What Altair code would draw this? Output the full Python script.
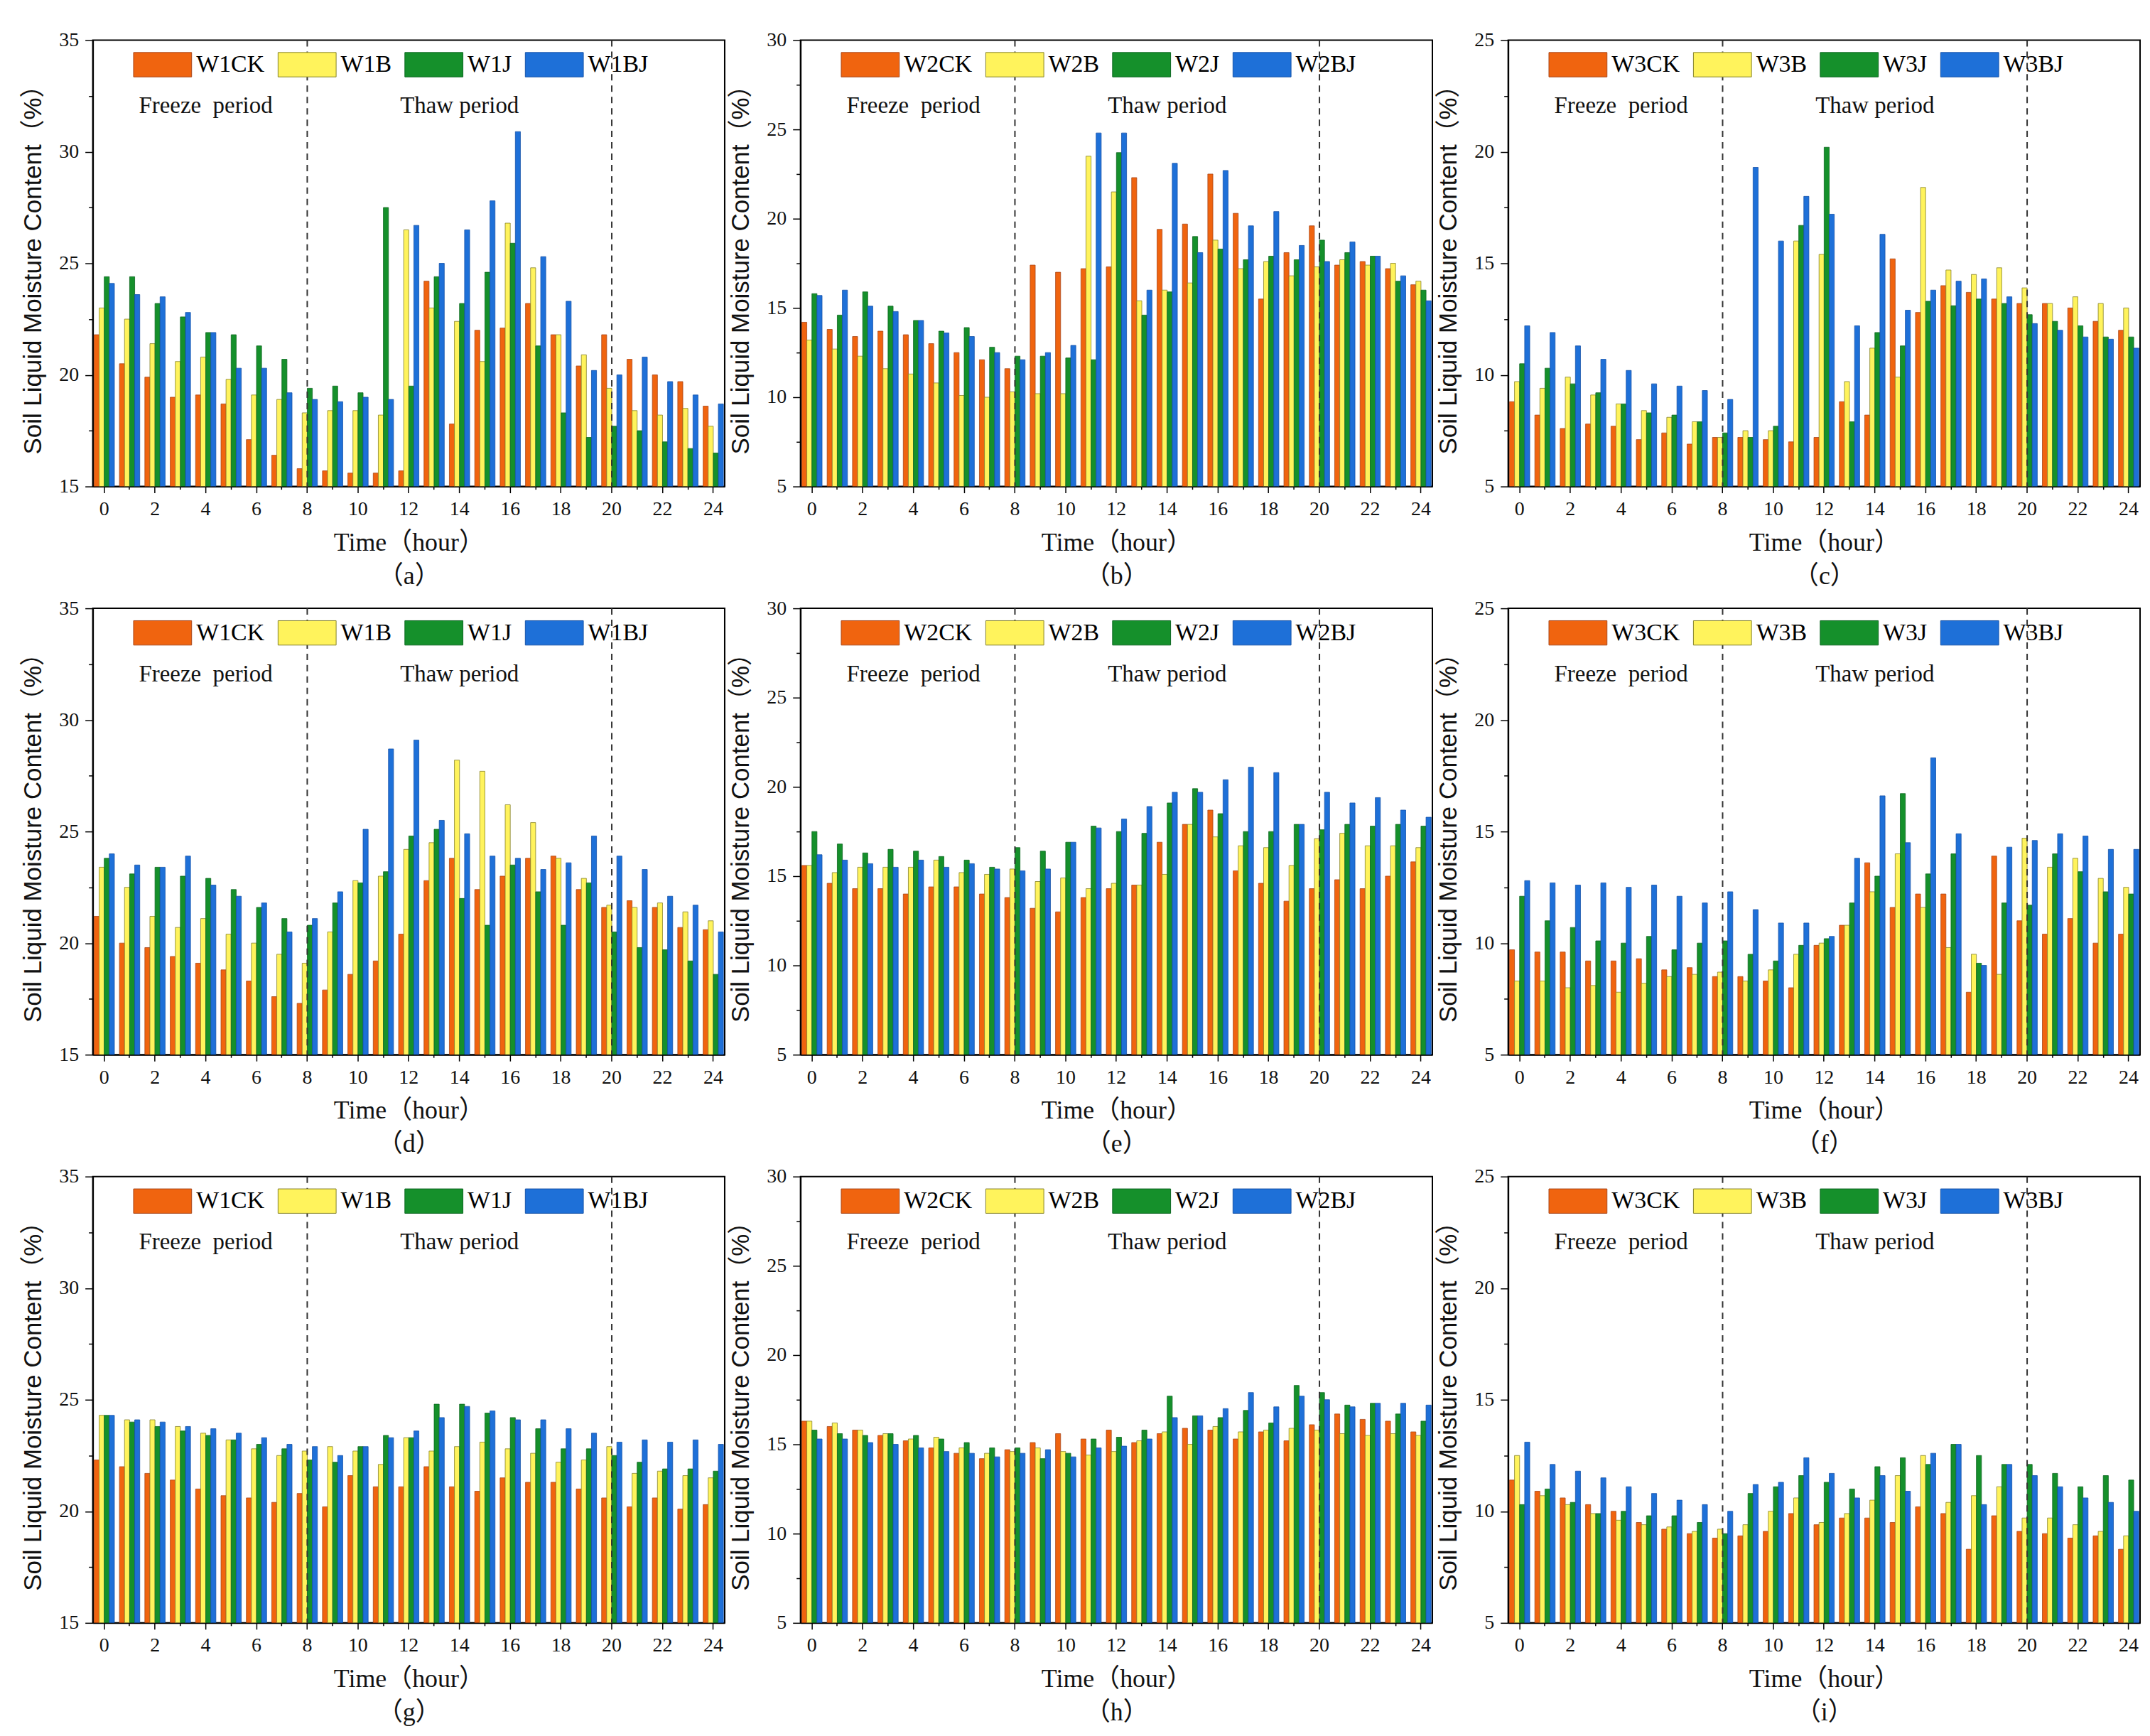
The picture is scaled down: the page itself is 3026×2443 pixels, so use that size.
import altair as alt
import pandas as pd

hours = list(range(25))
odd_hours = [h for h in hours if h % 2 == 1]
even_hours = [h for h in hours if h % 2 == 0]
suffixes = ["CK", "B", "J", "BJ"]
fill_colors = ["#F0640F", "#FFF35C", "#15902B", "#1E70D8"]
edge_colors = ["#A8461A", "#85822A", "#0C6620", "#1552A8"]
boundary_hours = [8, 20]
period_labels = ["Freeze\u00a0 period", "Thaw period"]
period_hours = [4, 14]

# ---- panel (a) W1, layer 1
a_CK = [21.8, 20.5, 19.9, 19.0, 19.1, 18.7, 17.1, 16.4, 15.8, 15.7, 15.6, 15.6, 15.7, 24.2, 17.8, 22.0, 22.1, 23.2, 21.8, 20.4, 21.8, 20.7, 20.0, 19.7, 18.6]
a_B = [23.0, 22.5, 21.4, 20.6, 20.8, 19.8, 19.1, 18.9, 18.3, 18.4, 18.4, 18.2, 26.5, 23.0, 22.4, 20.6, 26.8, 24.8, 21.8, 20.9, 19.4, 18.4, 18.2, 18.5, 17.7]
a_J = [24.4, 24.4, 23.2, 22.6, 21.9, 21.8, 21.3, 20.7, 19.4, 19.5, 19.2, 27.5, 19.5, 24.4, 23.2, 24.6, 25.9, 21.3, 18.3, 17.2, 17.7, 17.5, 17.0, 16.7, 16.5]
a_BJ = [24.1, 23.6, 23.5, 22.8, 21.9, 20.3, 20.3, 19.2, 18.9, 18.8, 19.0, 18.9, 26.7, 25.0, 26.5, 27.8, 30.9, 25.3, 23.3, 20.2, 20.0, 20.8, 19.7, 19.1, 18.7]

# ---- panel (b) W2, layer 1
b_CK = [14.2, 13.8, 13.4, 13.7, 13.5, 13.0, 12.5, 12.1, 11.6, 17.4, 17.0, 17.2, 17.3, 22.3, 19.4, 19.7, 22.5, 20.3, 15.5, 18.1, 19.6, 17.4, 17.6, 17.2, 16.3]
b_B = [13.2, 12.7, 12.3, 11.6, 11.3, 10.8, 10.1, 10.0, 10.3, 10.2, 10.2, 23.5, 21.5, 15.4, 16.0, 16.4, 18.8, 17.2, 17.6, 16.8, 17.3, 17.7, 17.4, 17.5, 16.5]
b_J = [15.8, 14.6, 15.9, 15.1, 14.3, 13.7, 13.9, 12.8, 12.3, 12.3, 12.2, 12.1, 23.7, 14.6, 15.9, 19.0, 18.3, 17.7, 17.9, 17.7, 18.8, 18.1, 17.9, 16.5, 16.0]
b_BJ = [15.7, 16.0, 15.1, 14.8, 14.3, 13.6, 13.4, 12.5, 12.1, 12.5, 12.9, 24.8, 24.8, 16.0, 23.1, 18.1, 22.7, 19.6, 20.4, 18.5, 17.6, 18.7, 17.9, 16.8, 15.4]

# ---- panel (c) W3, layer 1
c_CK = [8.8, 8.2, 7.6, 7.8, 7.7, 7.1, 7.4, 6.9, 7.2, 7.2, 7.1, 7.0, 7.2, 8.8, 8.2, 15.2, 12.8, 14.0, 13.7, 13.4, 13.2, 13.2, 13.0, 12.4, 12.0]
c_B = [9.7, 9.4, 9.9, 9.1, 8.7, 8.4, 8.1, 7.9, 7.2, 7.5, 7.5, 16.0, 15.4, 9.7, 11.2, 9.9, 18.4, 14.7, 14.5, 14.8, 13.9, 13.2, 13.5, 13.2, 13.0]
c_J = [10.5, 10.3, 9.6, 9.2, 8.7, 8.3, 8.2, 7.9, 7.4, 7.2, 7.7, 16.7, 20.2, 7.9, 11.9, 11.3, 13.3, 13.1, 13.4, 13.2, 12.7, 12.4, 12.2, 11.7, 11.7]
c_BJ = [12.2, 11.9, 11.3, 10.7, 10.2, 9.6, 9.5, 9.3, 8.9, 19.3, 16.0, 18.0, 17.2, 12.2, 16.3, 12.9, 13.8, 14.2, 14.3, 13.5, 12.3, 12.0, 11.7, 11.6, 11.2]

# ---- panel (d) W1, layer 2
d_CK = [21.2, 20.0, 19.8, 19.4, 19.1, 18.8, 18.3, 17.6, 17.3, 17.9, 18.6, 19.2, 20.4, 22.8, 23.8, 22.4, 23.0, 23.8, 23.9, 22.4, 21.6, 21.9, 21.6, 20.7, 20.6]
d_B = [23.4, 22.5, 21.2, 20.7, 21.1, 20.4, 20.0, 19.5, 19.1, 20.5, 22.8, 23.0, 24.2, 24.5, 28.2, 27.7, 26.2, 25.4, 23.8, 22.9, 21.7, 21.6, 21.8, 21.4, 21.0]
d_J = [23.8, 23.1, 23.4, 23.0, 22.9, 22.4, 21.6, 21.1, 20.8, 21.8, 22.7, 23.2, 24.8, 25.1, 22.0, 20.8, 23.5, 22.3, 20.8, 22.7, 20.5, 19.8, 19.7, 19.2, 18.6]
d_BJ = [24.0, 23.5, 23.4, 23.9, 22.6, 22.1, 21.8, 20.5, 21.1, 22.3, 25.1, 28.7, 29.1, 25.5, 24.9, 23.9, 23.8, 23.3, 23.6, 24.8, 23.9, 23.3, 22.1, 21.7, 20.5]

# ---- panel (e) W2, layer 2
e_CK = [15.6, 14.6, 14.3, 14.3, 14.0, 14.4, 14.4, 14.0, 13.8, 13.2, 13.0, 13.8, 14.3, 14.5, 16.9, 17.9, 18.7, 15.3, 14.6, 13.6, 14.3, 14.8, 14.3, 15.0, 15.8]
e_B = [15.6, 15.2, 15.5, 15.5, 15.5, 15.9, 15.2, 15.1, 15.4, 14.7, 14.9, 14.3, 14.6, 14.5, 15.1, 17.9, 17.2, 16.7, 16.6, 15.6, 17.1, 17.4, 16.7, 16.7, 16.6]
e_J = [17.5, 16.8, 16.3, 16.5, 16.4, 16.1, 15.9, 15.5, 16.6, 16.4, 16.9, 17.8, 17.5, 17.4, 19.1, 19.9, 18.5, 17.5, 17.5, 17.9, 17.6, 17.9, 17.8, 17.9, 17.8]
e_BJ = [16.2, 15.9, 15.7, 15.5, 15.9, 15.5, 15.7, 15.4, 15.3, 15.4, 16.9, 17.7, 18.2, 18.9, 19.7, 19.7, 20.4, 21.1, 20.8, 17.9, 19.7, 19.1, 19.4, 18.7, 18.3]

# ---- panel (f) W3, layer 2
f_CK = [9.7, 9.6, 9.6, 9.2, 9.2, 9.3, 8.8, 8.9, 8.5, 8.5, 8.3, 8.0, 9.9, 10.8, 13.6, 11.6, 12.2, 12.2, 7.8, 13.9, 11.0, 10.4, 11.1, 10.0, 10.4]
f_B = [8.3, 8.3, 8.0, 8.1, 7.8, 8.2, 8.5, 8.6, 8.7, 8.3, 8.8, 9.5, 10.0, 10.8, 12.3, 14.0, 11.6, 9.8, 9.5, 8.6, 14.7, 13.4, 13.8, 12.9, 12.5]
f_J = [12.1, 11.0, 10.7, 10.1, 10.0, 10.3, 9.7, 10.0, 10.1, 9.5, 9.2, 9.9, 10.2, 11.8, 13.0, 16.7, 13.1, 14.0, 9.1, 11.8, 11.7, 14.0, 13.2, 12.3, 12.2]
f_BJ = [12.8, 12.7, 12.6, 12.7, 12.5, 12.6, 12.1, 11.8, 12.3, 11.5, 10.9, 10.9, 10.3, 13.8, 16.6, 14.5, 18.3, 14.9, 9.0, 14.3, 14.6, 14.9, 14.8, 14.2, 14.2]

# ---- panel (g) W1, layer 3
g_CK = [22.3, 22.0, 21.7, 21.4, 21.0, 20.7, 20.6, 20.4, 20.8, 20.2, 21.6, 21.1, 21.1, 22.0, 21.1, 20.9, 21.5, 21.3, 21.3, 21.0, 20.6, 20.2, 20.6, 20.1, 20.3]
g_B = [24.3, 24.1, 24.1, 23.8, 23.5, 23.2, 22.8, 22.5, 22.7, 22.9, 22.7, 22.1, 23.3, 22.7, 22.9, 23.1, 22.8, 22.6, 22.2, 22.3, 22.9, 21.7, 21.8, 21.6, 21.5]
g_J = [24.3, 24.0, 23.8, 23.6, 23.4, 23.2, 23.0, 22.8, 22.3, 22.2, 22.9, 23.4, 23.3, 24.8, 24.8, 24.4, 24.2, 23.7, 22.8, 22.8, 22.5, 22.2, 21.9, 21.9, 21.8]
g_BJ = [24.3, 24.1, 24.0, 23.8, 23.7, 23.5, 23.3, 23.0, 22.9, 22.5, 22.9, 23.3, 23.6, 24.2, 24.7, 24.5, 24.1, 24.1, 23.7, 23.5, 23.1, 23.2, 23.1, 23.2, 23.0]

# ---- panel (h) W2, layer 3
h_CK = [16.3, 16.0, 15.8, 15.5, 15.2, 14.8, 14.5, 14.2, 14.7, 15.1, 15.6, 15.3, 15.8, 15.1, 15.6, 15.9, 15.8, 15.3, 15.7, 15.2, 16.1, 16.7, 16.4, 16.3, 15.7]
h_B = [16.3, 16.2, 15.8, 15.6, 15.3, 15.4, 14.8, 14.5, 14.6, 14.8, 14.6, 14.4, 14.6, 15.2, 15.7, 15.0, 16.0, 15.7, 15.8, 15.9, 15.8, 15.6, 15.5, 15.6, 15.5]
h_J = [15.8, 15.6, 15.5, 15.6, 15.5, 15.3, 15.1, 14.8, 14.8, 14.2, 14.5, 15.3, 15.4, 15.8, 17.7, 16.6, 16.5, 16.9, 16.2, 18.3, 17.9, 17.2, 17.3, 16.7, 16.3]
h_BJ = [15.3, 15.3, 15.1, 15.0, 14.8, 14.6, 14.5, 14.3, 14.5, 14.7, 14.3, 14.8, 14.9, 15.3, 16.5, 16.6, 17.0, 17.9, 17.1, 17.7, 17.5, 17.1, 17.3, 17.3, 17.2]

# ---- panel (i) W3, layer 3
i_CK = [11.4, 10.9, 10.6, 10.3, 10.0, 9.5, 9.2, 9.0, 8.8, 8.9, 9.1, 9.9, 9.4, 9.7, 9.7, 9.5, 10.2, 9.9, 8.3, 9.8, 9.1, 9.0, 8.8, 8.9, 8.3]
i_B = [12.5, 10.7, 10.3, 9.9, 9.6, 9.4, 9.3, 9.1, 9.2, 9.4, 10.0, 10.6, 9.5, 9.9, 10.5, 11.6, 12.5, 10.4, 10.7, 11.1, 9.7, 9.7, 9.4, 9.1, 8.9]
i_J = [10.3, 11.0, 10.4, 9.9, 10.0, 9.8, 9.8, 9.5, 9.0, 10.8, 11.1, 11.6, 11.3, 11.0, 12.0, 12.4, 12.1, 13.0, 12.5, 12.1, 12.1, 11.7, 11.1, 11.6, 11.4]
i_BJ = [13.1, 12.1, 11.8, 11.5, 11.1, 10.8, 10.5, 10.3, 10.0, 11.2, 11.3, 12.4, 11.7, 10.6, 11.6, 10.9, 12.6, 13.0, 10.3, 12.1, 11.6, 11.1, 10.6, 10.4, 10.0]

SERIF = "Liberation Serif, Noto Sans CJK SC"
SANS = "Liberation Sans, Noto Sans CJK SC"
W, H = 892, 630


def panel(letter, prefix, ymin, ymax, ck, b, j, bj):
    names = [prefix + s for s in suffixes]
    rows = []
    for name, vals in zip(names, [ck, b, j, bj]):
        for hr, v in zip(hours, vals):
            rows.append({"hour": hr, "series": name, "value": v})
    df = pd.DataFrame(rows)

    major_y = list(range(ymin, ymax + 1, 5))
    minor_y = [v + 2.5 for v in major_y[:-1]]

    xscale = alt.Scale(domain=hours, paddingInner=0.2, paddingOuter=0.05)
    yscale = alt.Scale(domain=[ymin, ymax], zero=False, nice=False)

    bars = alt.Chart(df).mark_bar(clip=True, strokeWidth=0.8).encode(
        x=alt.X("hour:O", scale=xscale,
                axis=alt.Axis(values=even_hours, labelAngle=0, tickSize=9, orient="bottom",
                              title=["Time（hour）", f"（{letter}）"])),
        xOffset=alt.XOffset("series:N", sort=names, scale=alt.Scale(domain=names, paddingInner=0)),
        y=alt.Y("value:Q", scale=yscale,
                axis=alt.Axis(values=major_y, tickSize=11, orient="left",
                              title="Soil Liquid Moisture Content（%）")),
        y2=alt.datum(ymin),
        color=alt.Color("series:N", sort=names,
                        scale=alt.Scale(domain=names, range=fill_colors),
                        legend=alt.Legend(orient="none", legendX=57, legendY=-7,
                                          direction="horizontal", columns=4, title=None,
                                          symbolType="M-1,-0.42H1V0.42H-1Z", symbolSize=6724,
                                          symbolStrokeColor="#6a6a40", symbolStrokeWidth=1,
                                          labelFont=SERIF, labelFontSize=34, labelOffset=6,
                                          columnPadding=16, padding=0, labelLimit=300)),
        stroke=alt.Stroke("series:N", sort=names,
                          scale=alt.Scale(domain=names, range=edge_colors), legend=None),
    )

    # invisible layer that only carries the minor tick marks of both axes
    minor = alt.Chart(df).mark_point(opacity=0).encode(
        x=alt.X("hour:O", scale=xscale,
                axis=alt.Axis(values=odd_hours, labels=False, domain=False, tickSize=4,
                              orient="bottom", title=None)),
        y=alt.Y("value:Q", scale=yscale,
                axis=alt.Axis(values=minor_y, labels=False, domain=False, tickSize=6,
                              orient="left", title=None)),
    )

    rules = alt.Chart(pd.DataFrame({"hour": boundary_hours})).mark_rule(
        strokeDash=[9, 7], color="#333333", strokeWidth=2
    ).encode(x=alt.X("hour:O", bandPosition=0.5, scale=xscale, axis=None))

    texts = alt.Chart(pd.DataFrame({"hour": period_hours, "label": period_labels})).mark_text(
        font=SERIF, fontSize=33, color="#111111", baseline="middle", align="center"
    ).encode(
        x=alt.X("hour:O", bandPosition=0.5, scale=xscale, axis=None),
        y=alt.value(93),
        text="label:N",
    )

    return alt.layer(bars, minor, rules, texts).resolve_axis(
        x="independent", y="independent"
    ).properties(width=W, height=H)


def row(panels):
    return alt.hconcat(*panels, spacing=4).resolve_scale(
        color="independent", stroke="independent", xOffset="independent",
        x="independent", y="independent"
    )


rowsp = [
    row([panel("a", "W1", 15, 35, a_CK, a_B, a_J, a_BJ),
         panel("b", "W2", 5, 30, b_CK, b_B, b_J, b_BJ),
         panel("c", "W3", 5, 25, c_CK, c_B, c_J, c_BJ)]),
    row([panel("d", "W1", 15, 35, d_CK, d_B, d_J, d_BJ),
         panel("e", "W2", 5, 30, e_CK, e_B, e_J, e_BJ),
         panel("f", "W3", 5, 25, f_CK, f_B, f_J, f_BJ)]),
    row([panel("g", "W1", 15, 35, g_CK, g_B, g_J, g_BJ),
         panel("h", "W2", 5, 30, h_CK, h_B, h_J, h_BJ),
         panel("i", "W3", 5, 25, i_CK, i_B, i_J, i_BJ)]),
]

chart = alt.vconcat(*rowsp, spacing=12).resolve_scale(
    color="independent", stroke="independent", xOffset="independent",
    x="independent", y="independent"
).properties(
    padding={"left": 21, "top": 30, "right": 5, "bottom": 5},
    background="white",
).configure_view(
    stroke="black", strokeWidth=2
).configure_axis(
    grid=False, domainColor="black", domainWidth=2, tickColor="black", tickWidth=1.5,
    labelFont=SERIF, labelFontSize=28, labelColor="#111111",
    labelPadding=9, titleColor="#111111",
).configure_axisX(
    titleFont=SERIF, titleFontSize=36, titleFontWeight="normal", titlePadding=16,
    titleLineHeight=47,
).configure_axisY(
    titleFont=SANS, titleFontSize=35, titleFontWeight="normal", titlePadding=18,
)

chart.save("out.html", embed_options={"renderer": "svg", "actions": False})
